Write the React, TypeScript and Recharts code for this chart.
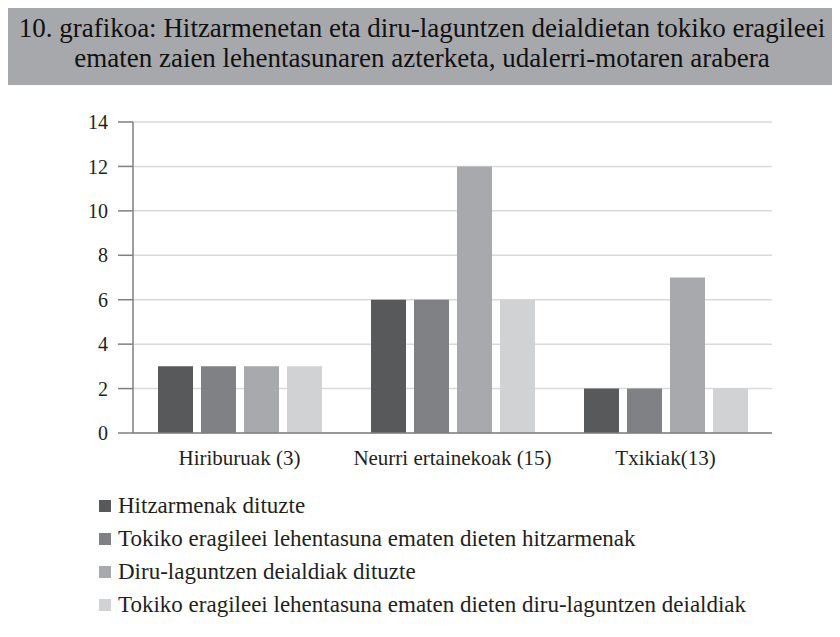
import React from 'react';
import { BarChart, Bar, XAxis, YAxis, CartesianGrid, Legend } from 'recharts';

const categories = ['Hiriburuak (3)', 'Neurri ertainekoak (15)', 'Txikiak(13)'];
const hitzarmenak = [3, 6, 2];
const tokikoHitzarmenak = [3, 6, 2];
const diruLaguntzak = [3, 12, 7];
const tokikoDiruLaguntzak = [3, 6, 2];
const yTicks = [0, 2, 4, 6, 8, 10, 12, 14];

const seriesNames = [
  'Hitzarmenak dituzte',
  'Tokiko eragileei lehentasuna ematen dieten hitzarmenak',
  'Diru-laguntzen deialdiak dituzte',
  'Tokiko eragileei lehentasuna ematen dieten diru-laguntzen deialdiak',
];
const colors = ['#58595b', '#808184', '#a7a9ac', '#d1d2d4'];

const data = categories.map((name, i) => ({
  name,
  edge: i,
  s1: hitzarmenak[i],
  s2: tokikoHitzarmenak[i],
  s3: diruLaguntzak[i],
  s4: tokikoDiruLaguntzak[i],
}));

const FONT = 'Liberation Serif';

const renderLegend = () => (
  <div style={{ fontFamily: FONT, fontSize: 23, color: '#231f20' }}>
    {seriesNames.map((n, i) => (
      <div key={n} style={{ display: 'flex', alignItems: 'center', height: 33, fontFamily: FONT }}>
        <span style={{ width: 12, height: 12, background: colors[i], marginRight: 7, display: 'inline-block', flex: 'none' }} />
        <span style={{ fontFamily: FONT, whiteSpace: 'nowrap' }}>{n}</span>
      </div>
    ))}
  </div>
);

export default function App() {
  return (
    <div style={{ position: 'relative', width: 840, height: 637, margin: -8, background: '#fff', fontFamily: FONT }}>
      <div style={{ position: 'absolute', left: 3, top: 6, width: 837, height: 631, borderLeft: '1.5px solid #c9c9cb', borderTop: '1px solid #d0d0d2' }} />
      <div
        style={{
          position: 'absolute',
          left: 4,
          top: 7,
          width: 836,
          height: 78,
          background: '#a7a8ab',
          color: '#111',
          fontFamily: FONT,
          fontSize: 27,
          lineHeight: '30px',
          textAlign: 'center',
          paddingTop: 6,
          boxSizing: 'border-box',
          whiteSpace: 'nowrap',
        }}
      >
        10. grafikoa: Hitzarmenetan eta diru-laguntzen deialdietan tokiko eragileei
        <br />
        ematen zaien lehentasunaren azterketa, udalerri-motaren arabera
      </div>
      <div style={{ position: 'absolute', left: 0, top: 0 }}>
        <BarChart
          width={840}
          height={637}
          data={data}
          margin={{ top: 122, right: 68, bottom: 164, left: 73 }}
          barCategoryGap={25}
          barGap={8}
        >
          <CartesianGrid vertical={false} stroke="#d9d9d9" strokeWidth={1.5} />
          <XAxis
            xAxisId="edge"
            type="number"
            dataKey="edge"
            domain={[0, 3]}
            ticks={[0, 1, 2, 3]}
            tick={false}
            tickSize={15}
            axisLine={false}
            height={0}
            tickLine={{ stroke: '#7f7f7f', strokeWidth: 1.5 }}
          />
          <XAxis
            dataKey="name"
            tickLine={false}
            axisLine={{ stroke: '#7f7f7f', strokeWidth: 1.5 }}
            tick={{ fill: '#231f20', fontSize: 21, fontFamily: FONT }}
            tickMargin={11}
            height={40}
          />
          <YAxis
            width={60}
            domain={[0, 14]}
            ticks={yTicks}
            tickSize={15}
            tickMargin={10}
            axisLine={{ stroke: '#7f7f7f', strokeWidth: 1.5 }}
            tickLine={{ stroke: '#7f7f7f', strokeWidth: 1.5 }}
            tick={{ fill: '#231f20', fontSize: 20, fontFamily: FONT }}
          />
          <Legend
            layout="horizontal"
            verticalAlign="middle"
            align="center"
            content={renderLegend}
            wrapperStyle={{ position: 'absolute', left: 99, top: 489, width: 730 }}
          />
          <Bar dataKey="s1" name={seriesNames[0]} fill={colors[0]} isAnimationActive={false} />
          <Bar dataKey="s2" name={seriesNames[1]} fill={colors[1]} isAnimationActive={false} />
          <Bar dataKey="s3" name={seriesNames[2]} fill={colors[2]} isAnimationActive={false} />
          <Bar dataKey="s4" name={seriesNames[3]} fill={colors[3]} isAnimationActive={false} />
        </BarChart>
      </div>
    </div>
  );
}
